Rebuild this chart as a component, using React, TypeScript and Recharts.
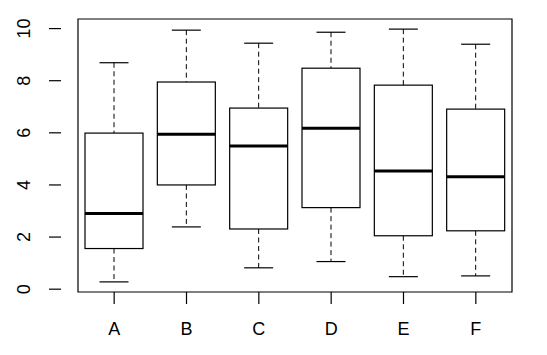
import React from "react";
import { ComposedChart, Bar, XAxis, YAxis, ReferenceArea } from "recharts";

const categories = ["A", "B", "C", "D", "E", "F"];
const whiskerLow = [0.28, 2.39, 0.82, 1.06, 0.48, 0.51];
const q1 = [1.56, 4.0, 2.31, 3.13, 2.05, 2.24];
const median = [2.9, 5.95, 5.49, 6.18, 4.54, 4.31];
const q3 = [5.99, 7.95, 6.95, 8.48, 7.83, 6.91];
const whiskerHigh = [8.69, 9.94, 9.44, 9.86, 9.98, 9.4];
const yTicks = [0, 2, 4, 6, 8, 10];

const Y_MIN = -0.108;
const Y_MAX = 10.368;

const data = categories.map((c, i) => ({
  name: c,
  range: [whiskerLow[i], whiskerHigh[i]],
  low: whiskerLow[i],
  q1: q1[i],
  median: median[i],
  q3: q3[i],
  high: whiskerHigh[i],
}));

const FONT = "'Liberation Sans', Arial, sans-serif";

const BoxShape = (props: any) => {
  const { x, y, width, height, payload } = props;
  if (!payload) return null;
  const { low, high } = payload;
  const k = height / (high - low);
  const yOf = (v: number) => y + (high - v) * k;
  const cx = x + width / 2;
  const capHalf = width / 4;
  const yQ1 = yOf(payload.q1);
  const yQ3 = yOf(payload.q3);
  const yMed = yOf(payload.median);
  const yLo = yOf(low);
  const yHi = yOf(high);
  return (
    <g>
      <line x1={cx} x2={cx} y1={yHi} y2={yQ3} stroke="#000" strokeWidth={1} strokeDasharray="5 3.5" />
      <line x1={cx} x2={cx} y1={yQ1} y2={yLo} stroke="#000" strokeWidth={1} strokeDasharray="5 3.5" />
      <line x1={cx - capHalf} x2={cx + capHalf} y1={yHi} y2={yHi} stroke="#000" strokeWidth={1.2} />
      <line x1={cx - capHalf} x2={cx + capHalf} y1={yLo} y2={yLo} stroke="#000" strokeWidth={1.2} />
      <rect x={x} y={yQ3} width={width} height={yQ1 - yQ3} fill="#fff" stroke="#000" strokeWidth={1.2} />
      <line x1={x} x2={x + width} y1={yMed} y2={yMed} stroke="#000" strokeWidth={3} />
    </g>
  );
};

const XTick = (props: any) => {
  const { x, y, payload } = props;
  return (
    <text
      x={x}
      y={y + 29}
      textAnchor="middle"
      fill="#000"
      fontFamily={FONT}
      fontSize={18}
    >
      {payload.value}
    </text>
  );
};

const YTick = (props: any) => {
  const { x, y, payload } = props;
  const bx = x - 17;
  return (
    <text
      x={bx}
      y={y}
      transform={`rotate(-90, ${bx}, ${y})`}
      textAnchor="middle"
      fill="#000"
      fontFamily={FONT}
      fontSize={18}
    >
      {payload.value}
    </text>
  );
};

export default function App() {
  return (
    <div style={{ position: "absolute", left: 0, top: 0, width: 547, height: 355, background: "#fff" }}>
      <ComposedChart
        width={547}
        height={355}
        data={data}
        margin={{ top: 19, right: 18, bottom: 0, left: 0 }}
      >
        <XAxis
          dataKey="name"
          type="category"
          padding={{ left: 17, right: 17 }}
          height={63}
          axisLine={false}
          tickSize={12}
          tickLine={{ stroke: "#000", strokeWidth: 1.2 }}
          tick={<XTick />}
          interval={0}
        />
        <YAxis
          type="number"
          domain={[Y_MIN, Y_MAX]}
          allowDataOverflow
          ticks={yTicks}
          width={61}
          axisLine={false}
          tickSize={12}
          tickLine={{ stroke: "#000", strokeWidth: 1.2 }}
          tick={<YTick />}
          interval={0}
        />
        <ReferenceArea
          y1={Y_MIN}
          y2={Y_MAX}
          fill="none"
          fillOpacity={0}
          stroke="#000"
          strokeWidth={1.2}
          ifOverflow="visible"
        />
        <Bar dataKey="range" barSize={58} shape={<BoxShape />} isAnimationActive={false} />
      </ComposedChart>
    </div>
  );
}
